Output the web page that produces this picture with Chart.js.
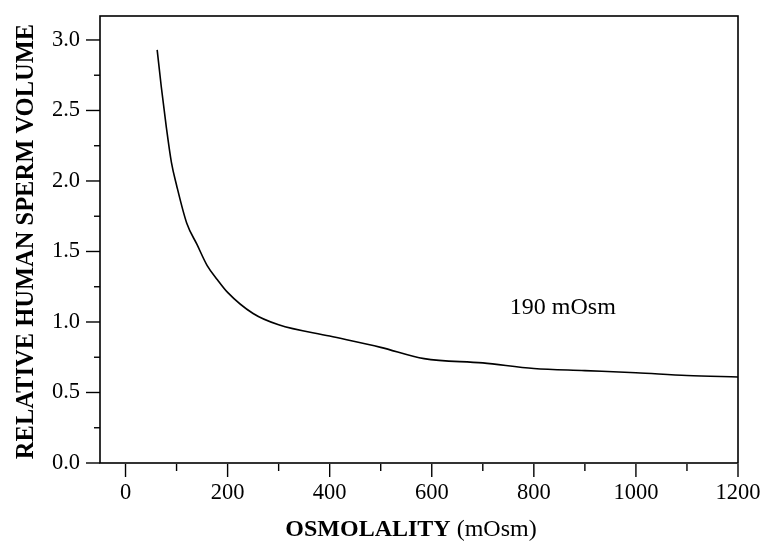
<!DOCTYPE html>
<html lang="en">
<head>
  <meta charset="UTF-8" />
  <title>Relative human sperm volume vs osmolality</title>
  <script src="https://cdn.jsdelivr.net/npm/chart.js"></script>
  <style>
    html, body { margin: 0; padding: 0; background: #fff; }
    #wrap { width: 761px; height: 541px; }
  </style>
</head>
<body>
  <div id="wrap"><canvas id="volChart" width="761" height="541"></canvas></div>

  <script>
    // values
    const osmolality = [62, 70, 80, 90, 100, 120, 140, 160, 180, 200, 250, 300, 400, 500, 585, 700, 800, 900, 1000, 1100, 1200];
    const relVolume = [2.93, 2.67, 2.38, 2.13, 1.97, 1.70, 1.55, 1.40, 1.30, 1.21, 1.06, 0.98, 0.90, 0.82, 0.74, 0.71, 0.67, 0.655, 0.64, 0.62, 0.61];

    const xTitleBold = 'OSMOLALITY';
    const xTitleUnit = ' (mOsm)';
    const yTitle = 'RELATIVE HUMAN SPERM VOLUME';
    const noteText = '190 mOsm';
    const notePos = { x: 753, y: 1.06 };

    const serif = "'Liberation Serif', 'DejaVu Serif', serif";

    // tick marks (long on labelled ticks), frame and the text that Chart.js can't mix
    const extras = {
      id: 'extras',
      afterDraw(chart) {
        const { ctx, chartArea: a, scales } = chart;
        ctx.save();
        ctx.strokeStyle = '#000';
        ctx.lineWidth = 1.6;
        ctx.strokeRect(a.left, a.top, a.right - a.left, a.bottom - a.top);

        ctx.lineWidth = 1.4;
        scales.x.ticks.forEach(t => {
          const px = scales.x.getPixelForValue(t.value);
          const len = t.value % 200 === 0 ? 13 : 7;
          ctx.beginPath();
          ctx.moveTo(px, a.bottom + 1);
          ctx.lineTo(px, a.bottom + 1 + len);
          ctx.stroke();
        });
        scales.y.ticks.forEach(t => {
          const py = scales.y.getPixelForValue(t.value);
          const len = Math.abs(t.value % 0.5) < 1e-9 ? 14 : 6;
          ctx.beginPath();
          ctx.moveTo(a.left - len, py);
          ctx.lineTo(a.left, py);
          ctx.stroke();
        });

        ctx.fillStyle = '#000';
        ctx.textBaseline = 'alphabetic';

        // x title, bold word + plain unit
        const boldFont = 'bold 24px ' + serif;
        const plainFont = '24px ' + serif;
        ctx.font = boldFont;
        const wb = ctx.measureText(xTitleBold).width;
        ctx.font = plainFont;
        const wu = ctx.measureText(xTitleUnit).width;
        let x0 = (a.left + a.right) / 2 - 8 - (wb + wu) / 2;
        ctx.font = boldFont;
        ctx.textAlign = 'left';
        ctx.fillText(xTitleBold, x0, 536);
        ctx.font = plainFont;
        ctx.fillText(xTitleUnit, x0 + wb, 536);

        // y title
        ctx.save();
        ctx.translate(33, (a.top + a.bottom) / 2 + 2);
        ctx.rotate(-Math.PI / 2);
        ctx.font = 'bold 24.5px ' + serif;
        ctx.textAlign = 'center';
        ctx.fillText(yTitle, 0, 0);
        ctx.restore();

        // annotation
        ctx.font = '24px ' + serif;
        ctx.textAlign = 'left';
        ctx.fillText(noteText, scales.x.getPixelForValue(notePos.x), scales.y.getPixelForValue(notePos.y));
        ctx.restore();
      }
    };

    const chart = new Chart(document.getElementById('volChart'), {
      type: 'line',
      data: {
        datasets: [{
          data: osmolality.map((x, i) => ({ x: x, y: relVolume[i] })),
          borderColor: '#000',
          borderWidth: 1.6,
          pointRadius: 0,
          fill: false,
          cubicInterpolationMode: 'monotone'
        }]
      },
      options: {
        responsive: false,
        animation: false,
        layout: { padding: { top: 16, right: 23, left: 0, bottom: 0 } },
        plugins: {
          legend: { display: false },
          tooltip: { enabled: false }
        },
        scales: {
          x: {
            type: 'linear',
            min: -50,
            max: 1200,
            grid: { display: false, drawTicks: false },
            border: { display: false },
            ticks: {
              stepSize: 100,
              includeBounds: false,
              autoSkip: false,
              maxRotation: 0,
              padding: 17,
              color: '#000',
              font: { family: serif, size: 22.5 },
              callback: v => (v % 200 === 0 ? String(v) : '')
            },
            afterFit: s => { s.height = 78; s.paddingLeft = 0; s.paddingRight = 0; }
          },
          y: {
            min: 0,
            max: 3.17,
            grid: { display: false, drawTicks: false },
            border: { display: false },
            ticks: {
              stepSize: 0.25,
              includeBounds: false,
              autoSkip: false,
              padding: 20,
              color: '#000',
              font: { family: serif, size: 22.5 },
              callback: v => (Math.abs(v % 0.5) < 1e-9 ? v.toFixed(1) : '')
            },
            afterFit: s => { s.width = 100; s.paddingTop = 0; s.paddingBottom = 0; }
          }
        }
      },
      plugins: [extras]
    });
  </script>
</body>
</html>
